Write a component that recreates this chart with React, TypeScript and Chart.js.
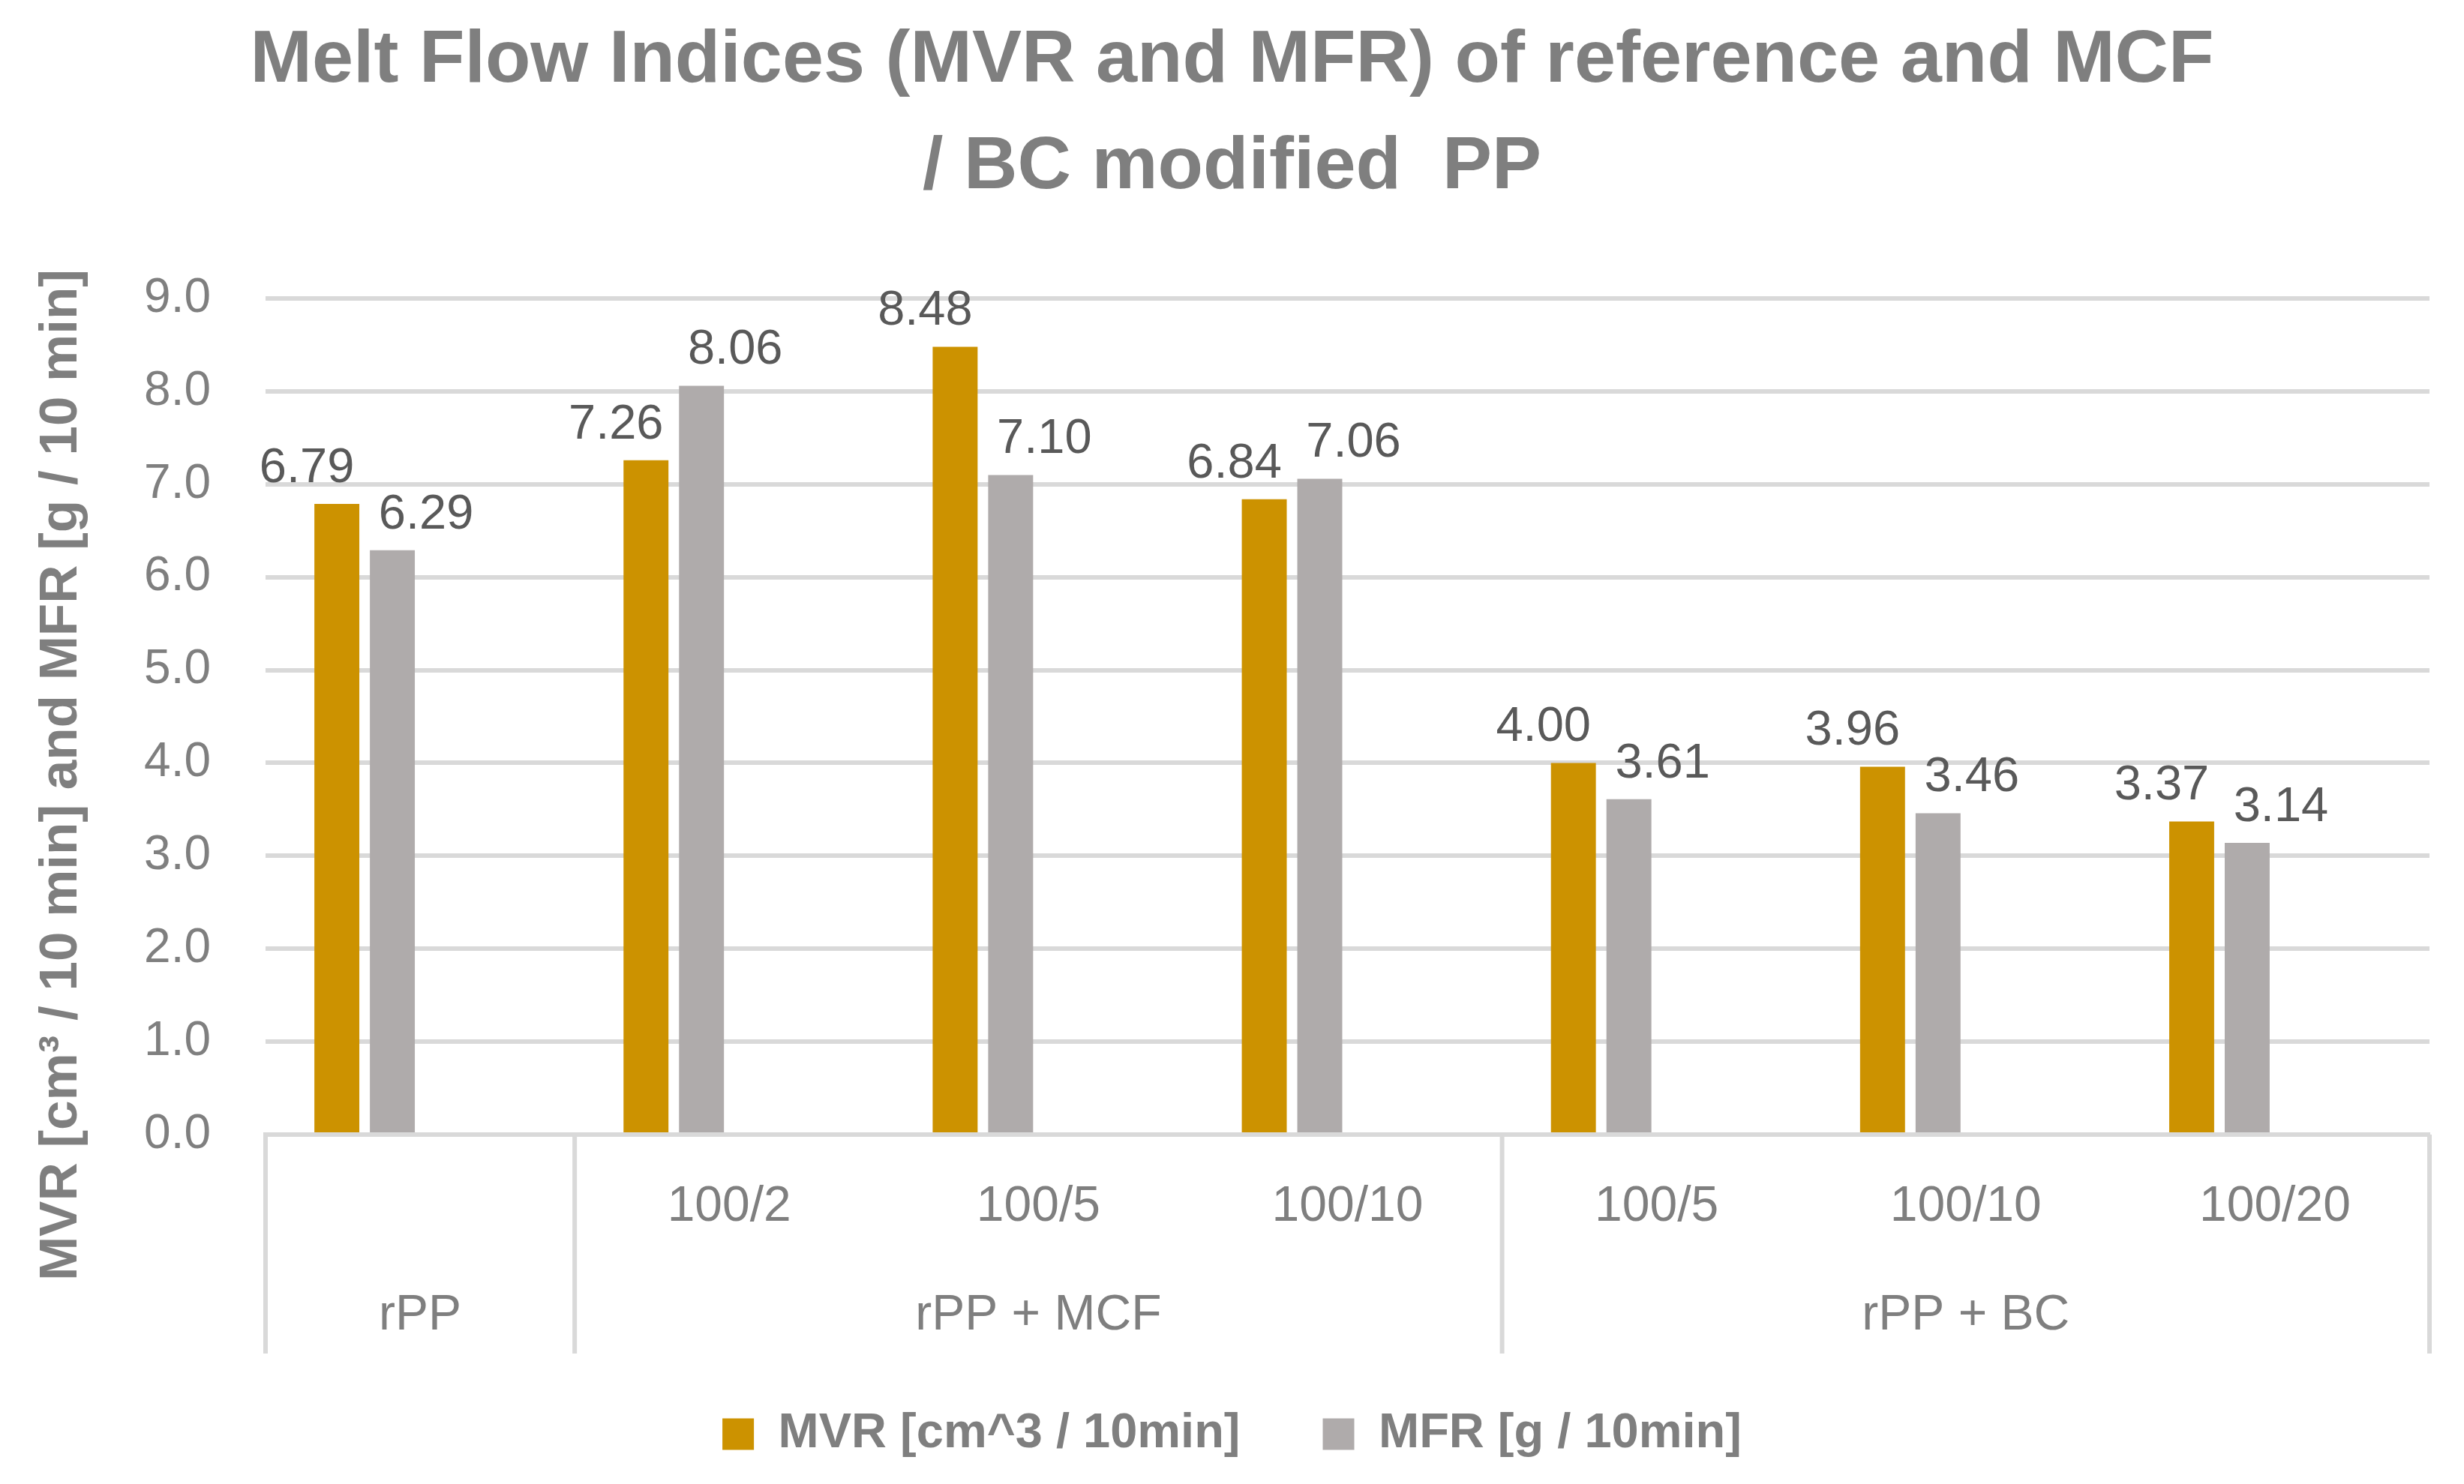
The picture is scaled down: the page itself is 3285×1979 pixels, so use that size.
import { useEffect, useRef } from 'react';
import { Chart, registerables } from 'chart.js';

Chart.register(...registerables);

const categories = ['', '100/2', '100/5', '100/10', '100/5', '100/10', '100/20'];
const groups = ['rPP', 'rPP + MCF', 'rPP + BC'];
const groupSizes = [1, 3, 3];
const mvr = [6.79, 7.26, 8.48, 6.84, 4.0, 3.96, 3.37];
const mfr = [6.29, 8.06, 7.1, 7.06, 3.61, 3.46, 3.14];
const emptySeries = categories.map(() => null);

const FONT = '"Liberation Sans", Arial, sans-serif';
const GREY_TEXT = '#7F7F7F';
const LINE = '#D9D9D9';
const labelShift = [-40, 45];

const barLabels = {
  id: 'barLabels',
  afterDatasetsDraw(chart: any) {
    const { ctx } = chart;
    ctx.save();
    ctx.font = `65px ${FONT}`;
    ctx.fillStyle = '#595959';
    ctx.textAlign = 'center';
    ctx.textBaseline = 'middle';
    [0, 1].forEach((di) => {
      const values = chart.data.datasets[di].data;
      chart.getDatasetMeta(di).data.forEach((bar: any, i: number) => {
        ctx.fillText(values[i].toFixed(2), bar.x + labelShift[di], bar.y - 47);
      });
    });
    ctx.restore();
  },
};

const axisExtras = {
  id: 'axisExtras',
  afterDraw(chart: any) {
    const { ctx, chartArea } = chart;
    const x = chart.scales.x;
    ctx.save();

    // group separators and group names under the category labels
    ctx.strokeStyle = LINE;
    ctx.lineWidth = 6;
    ctx.fillStyle = GREY_TEXT;
    ctx.font = `66px ${FONT}`;
    ctx.textAlign = 'center';
    ctx.textBaseline = 'middle';
    let start = 0;
    const edges = [start];
    groupSizes.forEach((n, g) => {
      const a = x.getPixelForValue(start - 0.5);
      const b = x.getPixelForValue(start + n - 0.5);
      ctx.fillText(groups[g], (a + b) / 2, x.top + 242);
      start += n;
      edges.push(start);
    });
    edges.forEach((e) => {
      const px = x.getPixelForValue(e - 0.5);
      ctx.beginPath();
      ctx.moveTo(px, x.top);
      ctx.lineTo(px, x.top + 292);
      ctx.stroke();
    });

    // y axis title
    ctx.font = `bold 71px ${FONT}`;
    ctx.translate(82, (chartArea.top + chartArea.bottom) / 2 + 78);
    ctx.rotate(-Math.PI / 2);
    ctx.fillText('MVR [cm³ / 10 min] and MFR [g / 10 min]', 0, 0);
    ctx.restore();
  },
};

export default function App() {
  const canvasRef = useRef<HTMLCanvasElement>(null);

  useEffect(() => {
    document.body.style.margin = '0';
    document.body.style.overflow = 'hidden';
    if (!canvasRef.current) return;

    const chart = new Chart(canvasRef.current, {
      type: 'bar',
      data: {
        labels: categories,
        datasets: [
          { label: 'MVR [cm^3 / 10min]', data: mvr, backgroundColor: '#CC9200' },
          { label: 'MFR [g / 10min]', data: mfr, backgroundColor: '#AFABAB' },
          { label: '', data: emptySeries, backgroundColor: 'transparent' },
          { label: '', data: emptySeries, backgroundColor: 'transparent' },
        ],
      },
      options: {
        animation: false,
        responsive: true,
        maintainAspectRatio: false,
        datasets: { bar: { categoryPercentage: 0.718, barPercentage: 0.81 } },
        layout: { padding: { left: 46, right: 46, top: 0, bottom: 24 } },
        plugins: {
          title: {
            display: true,
            text: ['Melt Flow Indices (MVR and MFR) of reference and MCF', '/ BC modified  PP'],
            color: GREY_TEXT,
            font: { family: FONT, size: 99, weight: 'bold', lineHeight: 1.44 },
            padding: { top: 10, bottom: 103 },
          },
          legend: {
            position: 'bottom',
            labels: {
              color: GREY_TEXT,
              font: { family: FONT, size: 65, weight: 'bold' },
              boxWidth: 42,
              boxHeight: 42,
              padding: 110,
              filter: (item) => item.text !== '',
            },
          },
          tooltip: { enabled: false },
        },
        scales: {
          x: {
            grid: { display: false, drawTicks: false },
            border: { display: true, color: LINE, width: 6 },
            ticks: {
              color: GREY_TEXT,
              font: { family: FONT, size: 66 },
              padding: 57,
              maxRotation: 0,
              autoSkip: false,
            },
            afterFit: (s) => {
              s.height = 257;
            },
          },
          y: {
            min: 0,
            max: 9,
            grid: { color: LINE, lineWidth: 6, drawTicks: false },
            border: { display: false },
            ticks: {
              stepSize: 1,
              color: GREY_TEXT,
              font: { family: FONT, size: 64 },
              padding: 73,
              callback: (v) => Number(v).toFixed(1),
            },
            afterFit: (s) => {
              s.width = 308;
            },
          },
        },
      },
      plugins: [barLabels, axisExtras],
    });

    return () => chart.destroy();
  }, []);

  return (
    <div style={{ width: '3285px', height: '1979px', position: 'relative' }}>
      <canvas ref={canvasRef}></canvas>
    </div>
  );
}
